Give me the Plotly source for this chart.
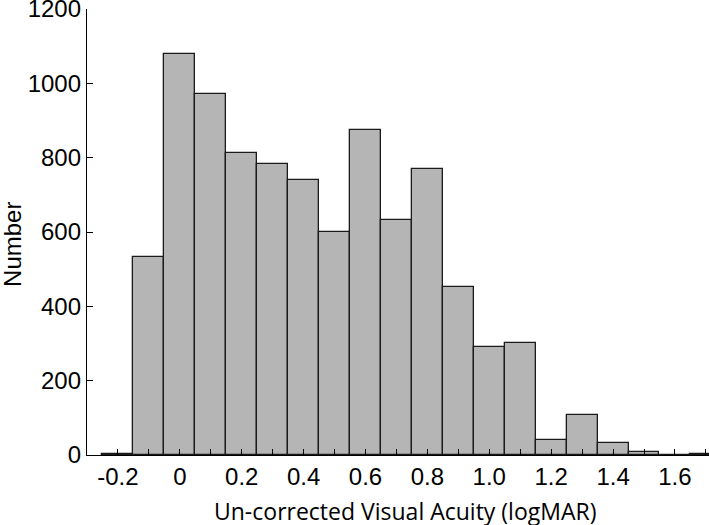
import plotly.graph_objects as go

bin_centers = [-0.2, -0.1, 0.0, 0.1, 0.2, 0.3, 0.4, 0.5, 0.6, 0.7, 0.8, 0.9, 1.0, 1.1, 1.2, 1.3, 1.4, 1.5, 1.6, 1.7]
counts = [3, 533, 1079, 971, 812, 783, 740, 600, 874, 632, 769, 452, 291, 301, 40, 108, 32, 8, 1, 4]

x_tick_vals = [-0.2, 0, 0.2, 0.4, 0.6, 0.8, 1.0, 1.2, 1.4, 1.6]
x_tick_text = ["-0.2", "0", "0.2", "0.4", "0.6", "0.8", "1.0", "1.2", "1.4", "1.6"]
y_tick_vals = [0, 200, 400, 600, 800, 1000, 1200]

fig = go.Figure(go.Bar(
    x=bin_centers, y=counts, width=0.1,
    marker=dict(color="#b5b5b5", line=dict(color="#1a1a1a", width=1.3)),
))

tick_font = dict(family="Liberation Sans, Arial, sans-serif", size=24, color="black")

fig.update_layout(
    width=709, height=525,
    margin=dict(l=87, r=0, t=9, b=70),
    plot_bgcolor="white", paper_bgcolor="white",
    showlegend=False, bargap=0,
    xaxis=dict(
        range=[-0.3, 1.71], tickvals=x_tick_vals, ticktext=x_tick_text,
        ticks="inside", ticklen=6, tickwidth=1.3, tickcolor="black",
        minor=dict(dtick=0.1, tick0=0, ticks="inside", ticklen=6, tickwidth=1.3, tickcolor="black"),
        showline=True, linecolor="black", linewidth=1.3,
        showgrid=False, zeroline=False, tickfont=tick_font, automargin=False,
        ticklabeloverflow="allow",
    ),
    yaxis=dict(
        range=[0, 1200], tickvals=y_tick_vals,
        ticks="inside", ticklen=6, tickwidth=1.3, tickcolor="black",
        showline=True, linecolor="black", linewidth=1.3,
        showgrid=False, zeroline=False, tickfont=tick_font, automargin=False,
        ticklabeloverflow="allow",
    ),
    annotations=[
        dict(text="Un-corrected Visual Acuity (logMAR)", xref="paper", yref="paper",
             x=0.511, y=0, xanchor="center", yanchor="middle", yshift=-56, showarrow=False,
             font=dict(family="Open Sans, sans-serif", size=23, color="black")),
        dict(text="Number", xref="paper", yref="paper", x=0, y=0.471, xshift=-74,
             xanchor="center", yanchor="middle", textangle=-90, showarrow=False,
             font=dict(family="Liberation Sans, Arial, sans-serif", size=24, color="black")),
    ],
)

fig.write_html("out.html", config={"displayModeBar": False},
               post_script="document.body.style.margin='0';")
